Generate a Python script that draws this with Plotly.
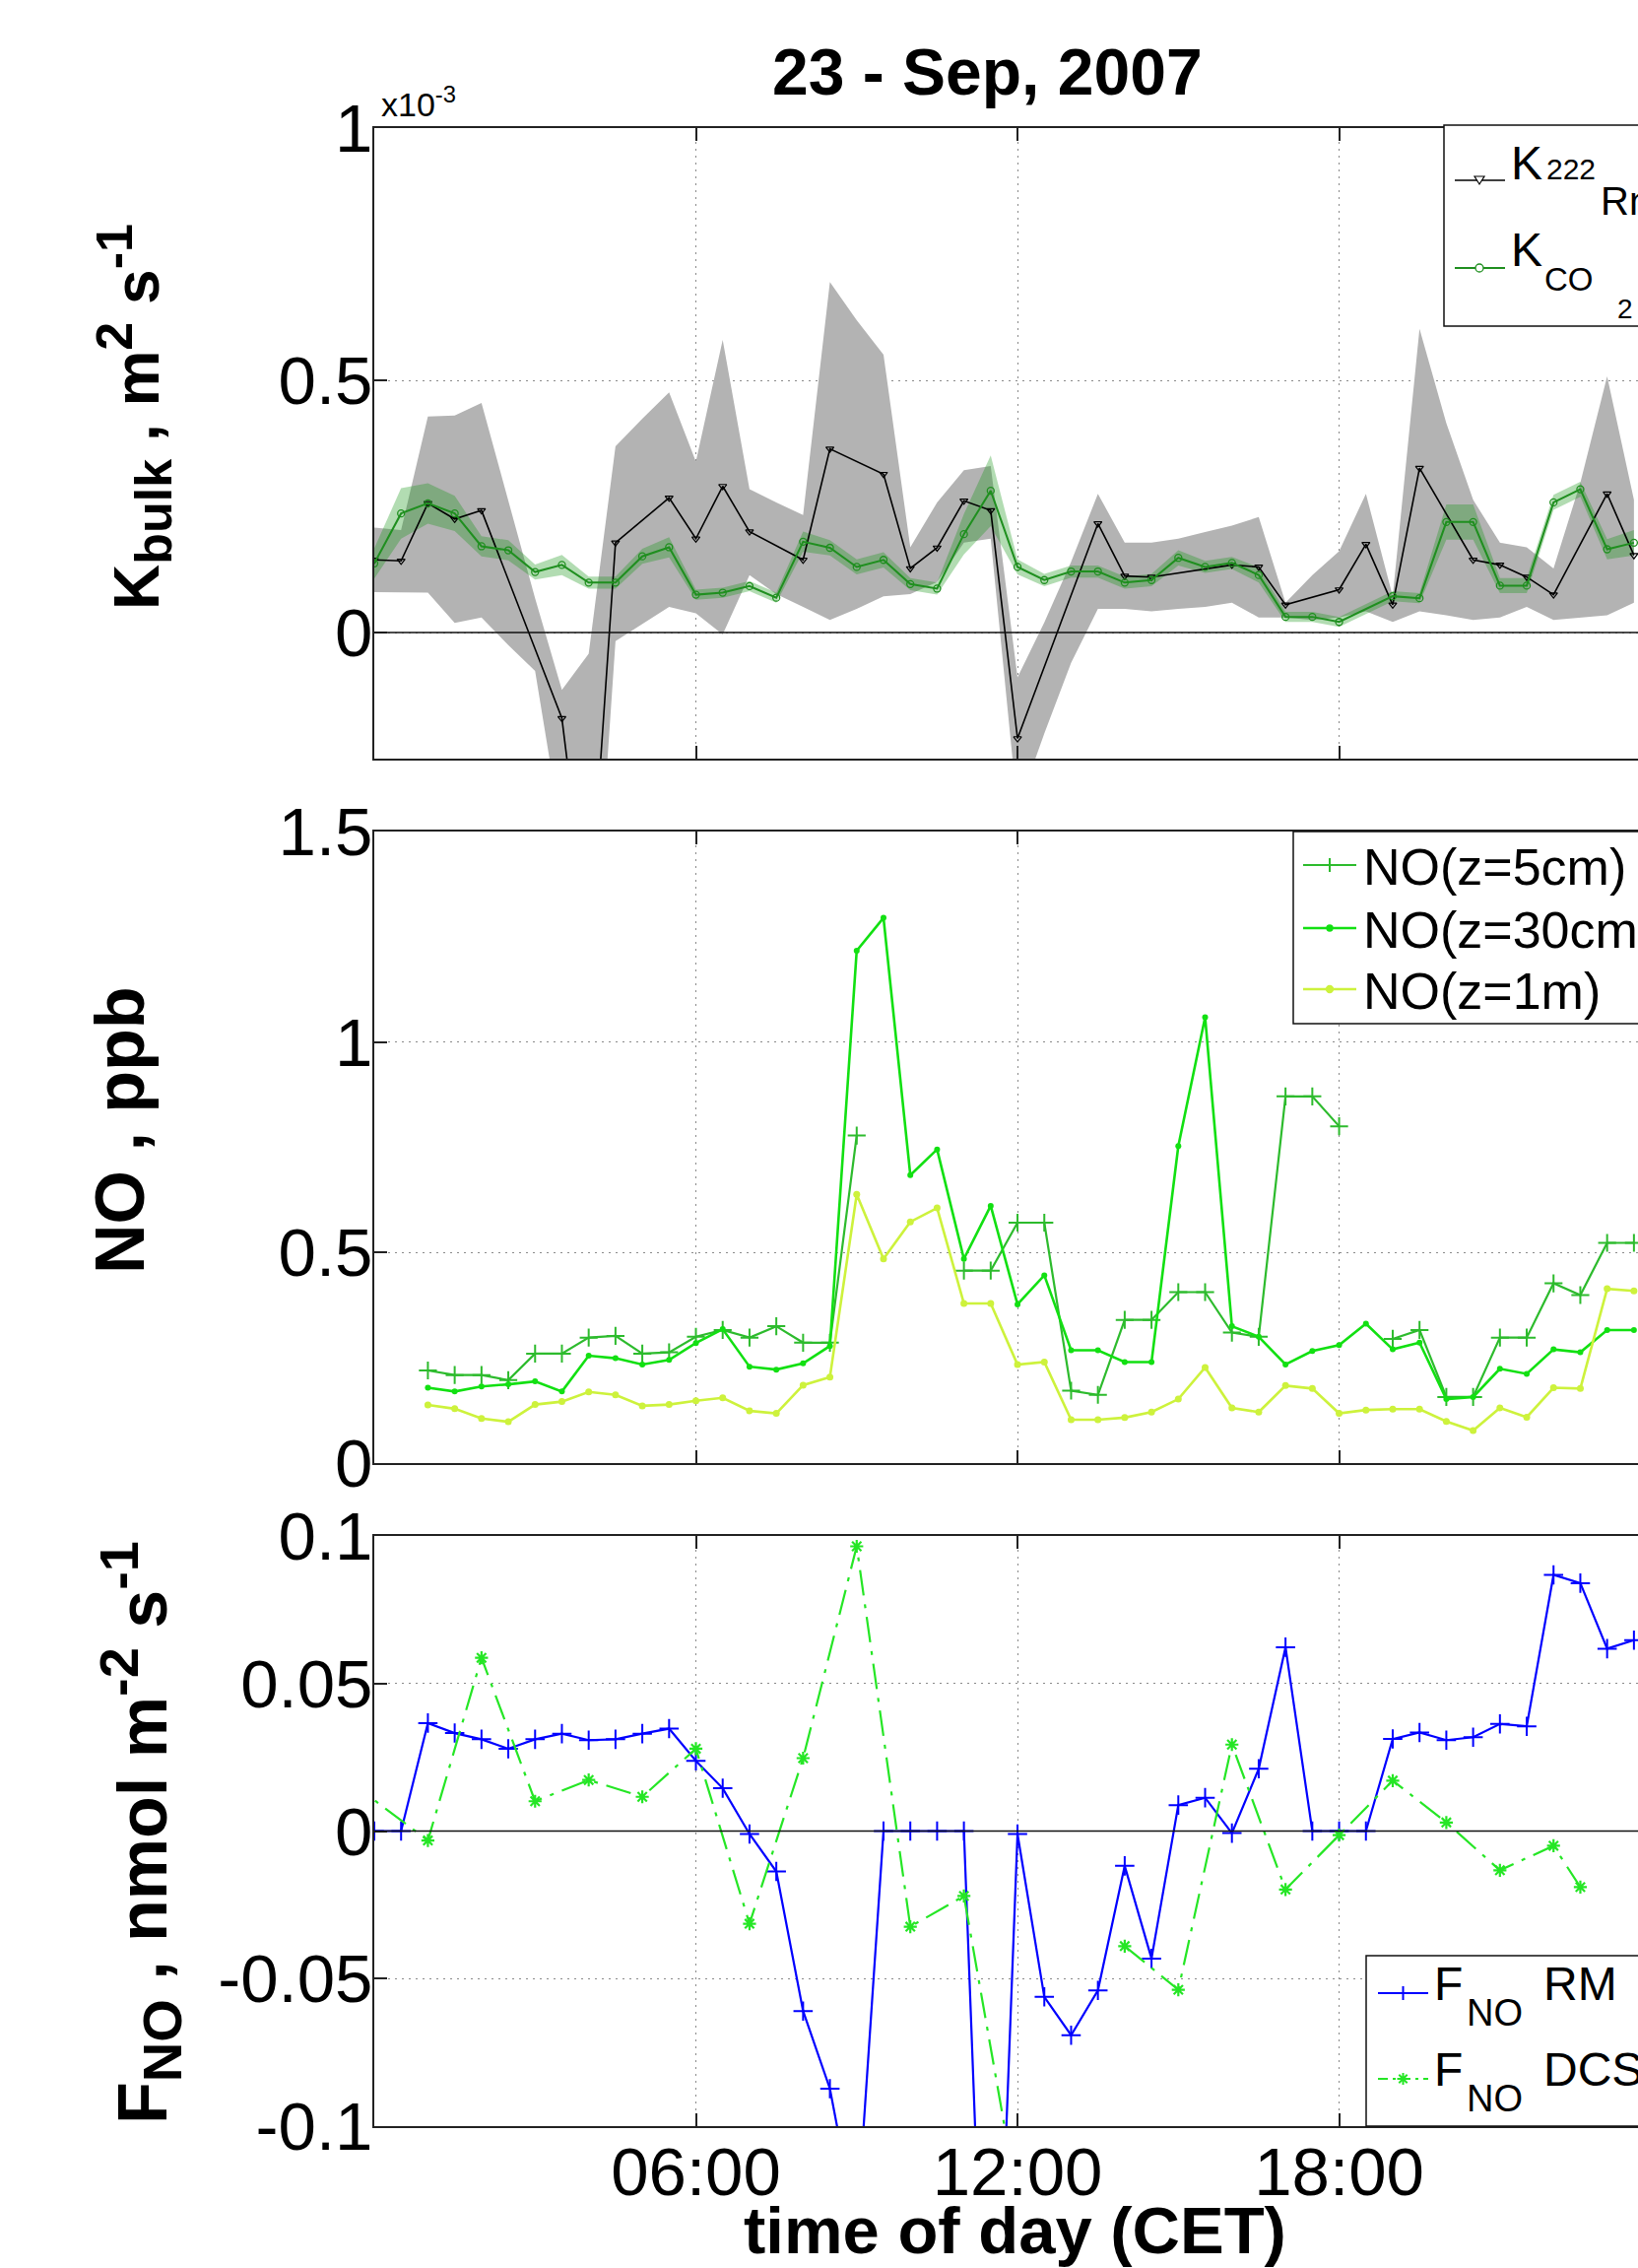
import plotly.graph_objects as go

W, H = 1663, 2302
ML = 380
PW = W - ML
FONT = "Liberation Sans, Arial, Helvetica, sans-serif"


def fx(p):
    return (p - ML) / PW


def fy(p):
    return 1 - p / H


# ---------------- data ----------------
# time of day (hours, CET)
half_hours = [0.0, 0.5, 1.0, 1.5, 2.0, 2.5, 3.0, 3.5, 4.0, 4.5, 5.0, 5.5,
              6.0, 6.5, 7.0, 7.5, 8.0, 8.5, 9.0, 9.5, 10.0, 10.5, 11.0, 11.5,
              12.0, 12.5, 13.0, 13.5, 14.0, 14.5, 15.0, 15.5, 16.0, 16.5, 17.0, 17.5,
              18.0, 18.5, 19.0, 19.5, 20.0, 20.5, 21.0, 21.5, 22.0, 22.5, 23.0, 23.5]

# Panel 1: K_bulk (x1e-3 m2 s-1)
rn_t = [0.0, 0.5, 1.0, 1.5, 2.0, 3.5, 4.0, 4.5, 5.5, 6.0, 6.5, 7.0, 8.0, 8.5, 9.5, 10.0,
        10.5, 11.0, 11.5, 12.0, 13.5, 14.0, 14.5, 16.0, 16.5, 17.0, 18.0, 18.5, 19.0,
        19.5, 20.5, 21.0, 21.5, 22.0, 23.0, 23.5]
rn_k = [0.144, 0.142, 0.256, 0.225, 0.242, -0.17, -0.6, 0.178, 0.267, 0.186, 0.29, 0.2,
        0.144, 0.364, 0.314, 0.127, 0.168, 0.261, 0.242, -0.21, 0.216, 0.112, 0.11,
        0.134, 0.13, 0.055, 0.085, 0.175, 0.055, 0.326, 0.144, 0.134, 0.11, 0.075,
        0.275, 0.153]
rn_hi = [0.208, 0.203, 0.428, 0.43, 0.455, 0.263, 0.068, -0.114, -0.042, 0.369,
         0.424, 0.476, 0.339, 0.58, 0.284, 0.258, 0.233, 0.695, 0.619, 0.551,
         0.169, 0.258, 0.322, 0.33, -0.089, 0.02, 0.14, 0.275, 0.178, 0.178,
         0.186, 0.199, 0.212, 0.229, 0.059, 0.114, 0.161, 0.275, 0.072, 0.602,
         0.415, 0.263, 0.178, 0.169, 0.127, 0.297, 0.508, 0.263]
rn_lo = [0.08, 0.08, 0.079, 0.019, 0.03, -0.025, -0.076, -0.4, -0.8, -0.017,
         0.017, 0.051, 0.038, -0.004, 0.114, 0.076, 0.051, 0.025, 0.047, 0.072,
         0.076, 0.1, 0.178, 0.186, -0.35, -0.2, -0.06, 0.047, 0.047, 0.042,
         0.047, 0.051, 0.059, 0.03, 0.03, 0.025, 0.03, 0.042, 0.021, 0.042,
         0.034, 0.025, 0.03, 0.051, 0.025, 0.03, 0.034, 0.059]
co2_k = [0.137, 0.236, 0.256, 0.236, 0.171, 0.163, 0.12, 0.134, 0.099, 0.099,
         0.151, 0.169, 0.075, 0.079, 0.092, 0.069, 0.18, 0.168, 0.13, 0.144,
         0.096, 0.087, 0.195, 0.281, 0.13, 0.104, 0.121, 0.121, 0.099, 0.104,
         0.148, 0.13, 0.138, 0.114, 0.031, 0.031, 0.021, None, 0.072, 0.068,
         0.219, 0.219, 0.093, 0.093, 0.258, 0.284, 0.165, 0.178]
co2_err = [0.03, 0.05, 0.04, 0.035, 0.02, 0.02, 0.015, 0.02, 0.012, 0.012,
           0.015, 0.02, 0.01, 0.01, 0.01, 0.01, 0.02, 0.015, 0.015, 0.015,
           0.012, 0.012, 0.04, 0.07, 0.015, 0.012, 0.012, 0.012, 0.012, 0.012,
           0.015, 0.012, 0.012, 0.015, 0.01, 0.01, 0.01, None, 0.01, 0.01,
           0.035, 0.035, 0.015, 0.015, 0.015, 0.015, 0.02, 0.025]

# Panel 2: NO mixing ratios (ppb)
no_t = [1.0, 1.5, 2.0, 2.5, 3.0, 3.5, 4.0, 4.5, 5.0, 5.5,
        6.0, 6.5, 7.0, 7.5, 8.0, 8.5, 9.0, 9.5, 10.0, 10.5,
        11.0, 11.5, 12.0, 12.5, 13.0, 13.5, 14.0, 14.5, 15.0, 15.5,
        16.0, 16.5, 17.0, 17.5, 18.0, 18.5, 19.0, 19.5, 20.0, 20.5,
        21.0, 21.5, 22.0, 22.5, 23.0, 23.5]
no_5cm = [0.22, 0.209, 0.209, 0.197, 0.26, 0.26, 0.298, 0.302, 0.26, 0.263,
          0.3, 0.316, 0.298, 0.325, 0.286, 0.286, 0.778, None, None, None,
          0.457, 0.457, 0.571, 0.571, 0.172, 0.162, 0.34, 0.34, 0.406, 0.406,
          0.31, 0.3, 0.871, 0.871, 0.8, None, 0.295, 0.316, 0.157, 0.157,
          0.298, 0.298, 0.427, 0.399, 0.523, 0.523]
no_30cm = [0.179, 0.17, 0.182, 0.187, 0.194, 0.17, 0.255, 0.249, 0.234, 0.245,
           0.285, 0.318, 0.229, 0.222, 0.237, 0.278, 1.217, 1.295, 0.684, 0.745,
           0.485, 0.611, 0.377, 0.446, 0.268, 0.268, 0.24, 0.24, 0.753, 1.059,
           0.325, 0.3, 0.234, 0.266, 0.28, 0.331, 0.27, 0.286, 0.152, 0.157,
           0.224, 0.212, 0.27, 0.263, 0.316, 0.316]
no_1m = [0.138, 0.129, 0.106, 0.098, 0.139, 0.146, 0.169, 0.162, 0.136, 0.139,
         0.148, 0.155, 0.124, 0.118, 0.185, 0.204, 0.638, 0.485, 0.573, 0.606,
         0.379, 0.379, 0.234, 0.24, 0.103, 0.103, 0.108, 0.121, 0.152, 0.227,
         0.131, 0.121, 0.184, 0.177, 0.118, 0.126, 0.128, 0.128, 0.099, 0.077,
         0.131, 0.109, 0.179, 0.177, 0.414, 0.409]

# Panel 3: NO flux (nmol m-2 s-1)
f_rm = [0.0, 0.0, 0.0366, 0.0332, 0.0311, 0.0279, 0.0311, 0.033, 0.0308, 0.0311,
        0.033, 0.0347, 0.0238, 0.0145, -0.001, -0.0137, -0.061, -0.0873, -0.135, 0.0,
        0.0, 0.0, 0.0, -0.24, -0.001, -0.0562, -0.0692, -0.054, -0.0118, -0.0432,
        0.0088, 0.0113, -0.0007, 0.0211, 0.0623, 0.0, 0.0, 0.0, 0.0312, 0.0334,
        0.0308, 0.0318, 0.0363, 0.0355, 0.0868, 0.084, 0.0618, 0.0647]
dcs_t = [-0.5, 1.0, 2.0, 3.0, 4.0, 5.0, 6.0, 7.0, 8.0, 9.0, 10.0, 11.0, 12.0, 13.0,
         14.0, 15.0, 16.0, 17.0, 18.0, 19.0, 20.0, 21.0, 22.0, 22.5]
f_dcs = [0.0173, -0.0032, 0.0587, 0.0101, 0.0173, 0.0116, 0.0279, -0.0314, 0.0247,
         0.0965, -0.0324, -0.022, -0.125, None, -0.039, -0.0538, 0.0293, -0.0198,
         -0.0014, 0.0171, 0.0029, -0.0133, -0.005, -0.019]

tick_hours = [6, 12, 18]
tick_hour_labels = ["06:00", "12:00", "18:00"]

# ---------------- styles ----------------
C_RN = "#000000"
C_CO2 = "#1f8f1f"
C_NO5 = "#2dbb2d"
C_NO30 = "#12e012"
C_NO1 = "#cdf23c"
C_RM = "#0000ff"
C_DCS = "#25e625"
DCS_DASH = "26px,9px,4px,9px"

fig = go.Figure()

# --- panel 1 bands ---
fig.add_trace(go.Scatter(x=half_hours, y=rn_hi, mode="lines", line=dict(width=0),
                         xaxis="x", yaxis="y", hoverinfo="skip", showlegend=False))
fig.add_trace(go.Scatter(x=half_hours, y=rn_lo, mode="lines", line=dict(width=0),
                         fill="tonexty", fillcolor="#b3b3b3",
                         xaxis="x", yaxis="y", hoverinfo="skip", showlegend=False))

co2_t_ok = [t for t, v in zip(half_hours, co2_k) if v is not None]
co2_hi = [v + e for v, e in zip(co2_k, co2_err) if v is not None]
co2_lo = [v - e for v, e in zip(co2_k, co2_err) if v is not None]
fig.add_trace(go.Scatter(x=co2_t_ok, y=co2_hi, mode="lines", line=dict(width=0),
                         xaxis="x", yaxis="y", hoverinfo="skip", showlegend=False))
fig.add_trace(go.Scatter(x=co2_t_ok, y=co2_lo, mode="lines", line=dict(width=0),
                         fill="tonexty", fillcolor="rgba(20,150,20,0.33)",
                         xaxis="x", yaxis="y", hoverinfo="skip", showlegend=False))

fig.add_trace(go.Scatter(x=rn_t, y=rn_k, mode="lines+markers", name="K222Rn",
                         line=dict(color=C_RN, width=1.6),
                         marker=dict(symbol="triangle-down-open", size=7, color=C_RN,
                                     line=dict(width=1.2, color=C_RN)),
                         xaxis="x", yaxis="y", showlegend=False))
fig.add_trace(go.Scatter(x=half_hours, y=co2_k, mode="lines+markers", name="KCO2",
                         connectgaps=True,
                         line=dict(color=C_CO2, width=2),
                         marker=dict(symbol="circle-open", size=7, color=C_CO2,
                                     line=dict(width=1.3, color=C_CO2)),
                         xaxis="x", yaxis="y", showlegend=False))

# --- panel 2 ---
fig.add_trace(go.Scatter(x=no_t, y=no_5cm, mode="lines+markers", name="NO(z=5cm)",
                         line=dict(color=C_NO5, width=2.2),
                         marker=dict(symbol="cross-thin-open", size=13,
                                     line=dict(width=2, color=C_NO5)),
                         xaxis="x2", yaxis="y2", showlegend=False))
fig.add_trace(go.Scatter(x=no_t, y=no_30cm, mode="lines+markers", name="NO(z=30cm)",
                         line=dict(color=C_NO30, width=2.6),
                         marker=dict(symbol="circle", size=6, color=C_NO30),
                         xaxis="x2", yaxis="y2", showlegend=False))
fig.add_trace(go.Scatter(x=no_t, y=no_1m, mode="lines+markers", name="NO(z=1m)",
                         line=dict(color=C_NO1, width=2.6),
                         marker=dict(symbol="circle", size=7, color=C_NO1),
                         xaxis="x2", yaxis="y2", showlegend=False))

# --- panel 3 ---
fig.add_trace(go.Scatter(x=half_hours, y=f_rm, mode="lines+markers", name="FNO RM",
                         line=dict(color=C_RM, width=2.2),
                         marker=dict(symbol="cross-thin-open", size=14,
                                     line=dict(width=2, color=C_RM)),
                         xaxis="x3", yaxis="y3", showlegend=False))
fig.add_trace(go.Scatter(x=dcs_t, y=f_dcs, mode="lines+markers", name="FNO DCS",
                         line=dict(color=C_DCS, width=2.2, dash=DCS_DASH),
                         marker=dict(symbol="asterisk-open", size=11,
                                     line=dict(width=2.2, color=C_DCS)),
                         xaxis="x3", yaxis="y3", showlegend=False))

# ---------------- axes ----------------
AX_COL = "#222222"
TICKFONT = dict(family=FONT, size=69, color="black")
XR = [0, (W - ML) / 54.42]

xbase = dict(range=XR, tickvals=tick_hours, ticktext=tick_hour_labels,
             ticks="inside", ticklen=13, tickwidth=1.5, tickcolor=AX_COL,
             showline=True, linecolor=AX_COL, linewidth=1.5, mirror="ticks",
             showgrid=True, gridcolor="#8a8a8a", gridwidth=1, griddash="2px,5px",
             zeroline=False, tickfont=TICKFONT, automargin=False)
ybase = dict(ticks="inside", ticklen=13, tickwidth=1.5, tickcolor=AX_COL,
             showline=True, linecolor=AX_COL, linewidth=1.5, mirror=False,
             showgrid=True, gridcolor="#8a8a8a", gridwidth=1, griddash="2px,5px",
             zeroline=False, tickfont=TICKFONT, ticklabelstandoff=-14, automargin=False)

D1 = [fy(770), fy(130)]
D2 = [fy(1485), fy(844)]
D3 = [fy(2158), fy(1559)]

fig.update_layout(
    xaxis=dict(xbase, anchor="y", showticklabels=False),
    xaxis2=dict(xbase, anchor="y2", showticklabels=False),
    xaxis3=dict(xbase, anchor="y3", showticklabels=True, ticklabelstandoff=-15),
    yaxis=dict(ybase, domain=D1, anchor="x", range=[-0.25, 1],
               tickvals=[0, 0.5, 1], ticktext=["0", "0.5", "1"]),
    yaxis2=dict(ybase, domain=D2, anchor="x2", range=[0, 1.5],
                tickvals=[0, 0.5, 1, 1.5], ticktext=["0", "0.5", "1", "1.5"]),
    yaxis3=dict(ybase, domain=D3, anchor="x3", range=[-0.1, 0.1],
                tickvals=[-0.1, -0.05, 0, 0.05, 0.1],
                ticktext=["-0.1", "-0.05", "0", "0.05", "0.1"]),
)

shapes = []
# zero lines
for ya, xa in (("y", "x"), ("y3", "x3")):
    shapes.append(dict(type="line", xref=f"{xa} domain", yref=ya, x0=0, x1=1, y0=0, y1=0,
                       line=dict(color="#111111", width=1.5), layer="above"))


def box(x0, y0, y1):
    shapes.append(dict(type="rect", xref="paper", yref="paper",
                       x0=fx(x0), x1=fx(W + 60), y0=fy(y1), y1=fy(y0),
                       line=dict(color="#111111", width=1.5), fillcolor="white",
                       layer="above"))


def seg(x0, x1, y, color, width=2, dash="solid"):
    shapes.append(dict(type="line", xref="paper", yref="paper",
                       x0=fx(x0), x1=fx(x1), y0=fy(y), y1=fy(y),
                       line=dict(color=color, width=width, dash=dash), layer="above"))


def path(d_pts, color, width=1.5, closed=False, fill=None):
    parts = []
    for stroke in d_pts:
        s = "M " + " L ".join(f"{fx(a):.5f},{fy(b):.5f}" for a, b in stroke)
        if closed:
            s += " Z"
        parts.append(s)
    shapes.append(dict(type="path", xref="paper", yref="paper", path=" ".join(parts),
                       line=dict(color=color, width=width),
                       fillcolor=fill if fill else "rgba(0,0,0,0)", layer="above"))


def circ(cx, cy, r, color, filled=False, width=1.3):
    shapes.append(dict(type="circle", xref="paper", yref="paper",
                       x0=fx(cx - r), x1=fx(cx + r), y0=fy(cy + r), y1=fy(cy - r),
                       line=dict(color=color, width=width),
                       fillcolor=color if filled else "white", layer="above"))


def plus(cx, cy, s, color, width=2):
    path([[(cx - s, cy), (cx + s, cy)], [(cx, cy - s), (cx, cy + s)]], color, width)


def star(cx, cy, s, color, width=2):
    path([[(cx - s, cy), (cx + s, cy)], [(cx, cy - s), (cx, cy + s)],
          [(cx - 0.7 * s, cy - 0.7 * s), (cx + 0.7 * s, cy + 0.7 * s)],
          [(cx - 0.7 * s, cy + 0.7 * s), (cx + 0.7 * s, cy - 0.7 * s)]], color, width)


# legend panel 1
box(1466, 127, 331)
seg(1477, 1528, 183, C_RN, 1.6)
path([[(1497, 179), (1507, 179), (1502, 187)]], C_RN, 1.2, closed=True, fill="white")
seg(1477, 1528, 272, C_CO2, 2)
circ(1502, 272, 4, C_CO2)
# legend panel 2
box(1313, 844, 1039)
seg(1323, 1377, 878, C_NO5, 2.2)
plus(1350, 878, 7, C_NO5, 2)
seg(1323, 1377, 942, C_NO30, 2.6)
circ(1350, 942, 3, C_NO30, filled=True)
seg(1323, 1377, 1004, C_NO1, 2.6)
circ(1350, 1004, 3.5, C_NO1, filled=True)
# legend panel 3
box(1387, 1985, 2158)
seg(1399, 1450, 2023, C_RM, 2.2)
plus(1424.5, 2023, 7, C_RM, 2)
seg(1399, 1450, 2110, C_DCS, 2.2, dash="10px,5px,3px,5px")
star(1424.5, 2110, 6, C_DCS, 2)

fig.update_layout(shapes=shapes)

ann = []


def txt(text, x, y, size, xanchor="left", bold=False, angle=0):
    if bold:
        text = "<b>" + text + "</b>"
    ann.append(dict(text=text, x=fx(x), y=fy(y), xref="paper", yref="paper",
                    xanchor=xanchor, yanchor="middle", showarrow=False,
                    textangle=angle, borderpad=0,
                    font=dict(family=FONT, size=size, color="black")))


# title & axis titles
txt("23 - Sep, 2007", 1002, 73, 66, xanchor="center", bold=True)
txt("time of day (CET)", 1030, 2263, 67, xanchor="center", bold=True)
txt("x10<sup>-3</sup>", 386, 104, 34)
txt("K<sub><span style='font-size:52px'>bulk</span></sub> , m"
    "<sup><span style='font-size:52px'>2</span></sup> s"
    "<sup><span style='font-size:52px'>-1</span></sup>",
    136, 423, 64, xanchor="center", bold=True, angle=-90)
txt("NO , ppb", 122, 1147, 70, xanchor="center", bold=True, angle=-90)
txt("F<sub><span style='font-size:56px'>NO</span></sub> , nmol m"
    "<sup><span style='font-size:56px'>-2</span></sup> s"
    "<sup><span style='font-size:56px'>-1</span></sup>",
    142, 1860, 70, xanchor="center", bold=True, angle=-90)

# legend texts
txt("K", 1533, 165, 48)
txt("222", 1569, 171.5, 30)
txt("Rn", 1624, 204, 40)
txt("K", 1533, 254, 48)
txt("CO", 1567, 284, 33)
txt("2", 1641, 313.5, 28)

txt("NO(z=5cm)", 1383, 880, 52)
txt("NO(z=30cm)", 1383, 944, 52)
txt("NO(z=1m)", 1383, 1006, 52)

txt("F", 1455, 2013.5, 48)
txt("NO", 1488, 2043, 38)
txt("RM", 1566, 2013.5, 48)
txt("F", 1455, 2100.5, 48)
txt("NO", 1488, 2129.5, 38)
txt("DCS", 1566, 2100.5, 48)

fig.update_layout(
    annotations=ann,
    width=W, height=H, autosize=False,
    margin=dict(l=ML, r=0, t=0, b=0, pad=0, autoexpand=False),
    paper_bgcolor="white", plot_bgcolor="white",
    showlegend=False, hovermode=False,
    font=dict(family=FONT, color="black"),
)

fig.write_html("out.html",
               config={"displayModeBar": False},
               post_script="document.body.style.margin='0px';"
                           "document.body.style.overflow='hidden';")
